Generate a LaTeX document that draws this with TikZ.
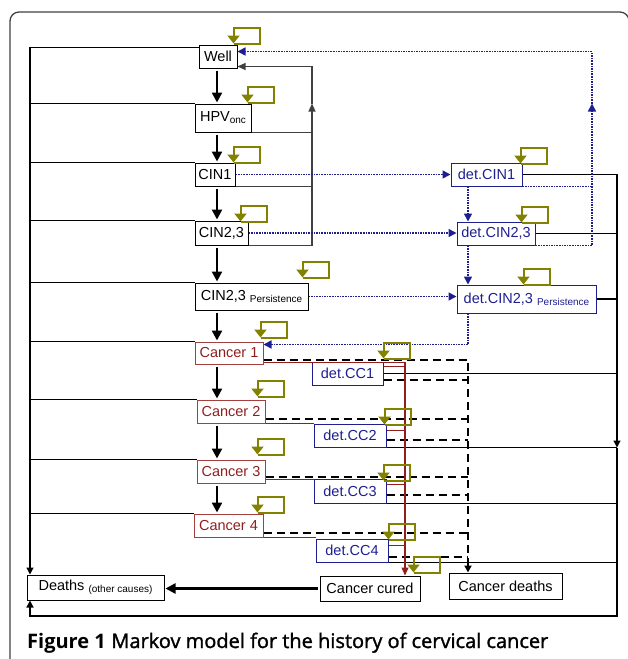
\documentclass[tikz,border=0pt]{standalone}
\usepackage{fontspec}
\setmainfont{Liberation Sans}
\newfontfamily\capfont{Open Sans}
\newfontfamily\capmid[FakeBold=1.5]{Open Sans}
\usepackage{xcolor}
\usepackage{tikz}
\usetikzlibrary{arrows.meta, positioning, calc}

\definecolor{detblue}{RGB}{30,30,145}
\definecolor{cancred}{RGB}{145,30,30}
\definecolor{loopolive}{RGB}{130,130,0}

\tikzset{
    box/.style={draw, line width=1pt, inner sep=1pt, minimum height=23pt, font=\fontsize{14.5}{16}\selectfont},
    cancerbox/.style={box, draw=cancred!85, text=cancred},
    detbox/.style={box, draw=detblue, text=detblue},
    progress/.style={line width=2.4pt, shorten <=2pt, shorten >=1pt, -{Triangle[width=10pt,length=10pt]}},
    death/.style={line width=1.3pt},
    backflow/.style={line width=1.1pt, black!75},
    detect/.style={detblue, line width=1.6pt, densely dotted, -{Triangle[width=8pt,length=8pt]}},
    cure/.style={cancred, line width=1.2pt},
    cdeath/.style={line width=2pt, dash pattern=on 8pt off 5pt},
    loopline/.style={loopolive, line width=2pt, -{Triangle[width=12pt,length=8pt]}},
}
\newcommand{\selfloop}[1]{\draw[loopline] #1 -| ++(26,-16) -| ++(-26,16);}
\newcommand{\lowsub}[1]{\raisebox{-2pt}{\fontsize{10}{10}\selectfont #1}}

\begin{document}
\begin{tikzpicture}[x=1pt, y=-1pt]
    \useasboundingbox (0,0) rectangle (627,659);
    % 外框
    \draw[black!75, line width=1.3pt, rounded corners=9pt] (10,12) rectangle (629,700);

    % 左列状态
    \node[box, minimum width=38pt] (well) at (218,56.5) {Well};
    \node[box, minimum width=56pt, minimum height=28pt] (hpv) at (223,118) {HPV\lowsub{onc}};
    \node[box, minimum width=40pt] (cin1) at (215,174.5) {CIN1};
    \node[box, minimum width=53pt, minimum height=24pt] (cin23) at (221.5,233) {CIN2,3};
    \node[box, minimum width=113pt, minimum height=27pt] (cin23p) at (251.5,296.5) {CIN2,3 \lowsub{Persistence}};
    \node[cancerbox, minimum width=68pt, minimum height=22pt] (can1) at (229,353) {Cancer 1};
    \node[cancerbox, minimum width=68pt] (can2) at (231,411.5) {Cancer 2};
    \node[cancerbox, minimum width=68pt] (can3) at (231,471.5) {Cancer 3};
    \node[cancerbox, minimum width=69pt] (can4) at (228.5,525.5) {Cancer 4};

    % 检出状态
    \node[detbox, minimum width=71pt] (dcin1) at (486.5,174.5) {det.CIN1};
    \node[detbox, minimum width=78pt] (dcin23) at (496,233.5) {det.CIN2,3};
    \node[detbox, minimum width=139pt, minimum height=28pt] (dcin23p) at (526.5,299) {det.CIN2,3 \lowsub{Persistence}};
    \node[detbox, minimum width=71pt] (dcc1) at (347.5,373.5) {det.CC1};
    \node[detbox, minimum width=72pt] (dcc2) at (350,435.5) {det.CC2};
    \node[detbox, minimum width=72pt, minimum height=24pt] (dcc3) at (350,491) {det.CC3};
    \node[detbox, minimum width=72pt] (dcc4) at (352,550.5) {det.CC4};

    % 吸收状态
    \node[box, minimum width=137pt, minimum height=25pt] (deaths) at (95.5,587.5) {Deaths \lowsub{(other causes)}};
    \node[box, minimum width=100pt, minimum height=25pt] (cured) at (370,588.5) {Cancer cured};
    \node[box, minimum width=113pt, minimum height=26pt] (cdeaths) at (505.5,586) {Cancer deaths};

    % 汇流线位置
    \coordinate (mainx) at (217,0);
    \coordinate (leftx) at (30,0);
    \coordinate (backx) at (312,0);
    \coordinate (colx) at (468,0);
    \coordinate (curex) at (405,0);
    \coordinate (recx) at (592,0);
    \coordinate (rightx) at (617,0);
    \coordinate (bottomy) at (0,616);

    % 疾病进展
    \foreach \a/\b in {well/hpv, hpv/cin1, cin1/cin23, cin23/cin23p, cin23p/can1, can1/can2, can2/can3, can3/can4}
        \draw[progress] (\a.south -| mainx) -- (\b.north -| mainx);
    \draw[progress] (cured.west) -- (cured.west -| deaths.east);

    % 其他原因死亡
    \draw[death, -{Triangle[width=7pt,length=7pt]}] ([yshift=-3pt]well.north west) -| (deaths.north -| leftx);
    \foreach \n in {hpv, cin1, cin23, cin23p, can1, can2, can3, can4}
        \draw[death] (\n.north west) -- (\n.north west -| leftx);
    \draw[death, -{Triangle[width=7pt,length=7pt]}] (dcin1.east) -| (dcc2.south east -| rightx);
    \draw[death, -{Triangle[width=7pt,length=7pt]}] (dcc2.south east -| rightx) |- (bottomy -| leftx) -- (deaths.south -| leftx);
    \foreach \n in {dcin23.east, dcin23p.east, dcc1.east, dcc2.south east, dcc3.south east, dcc4.south east}
        \draw[death] (\n) -- (\n -| rightx);

    % 回到 Well
    \draw[backflow, -{Triangle[width=7pt,length=8pt]}] (cin23.south east) -| (backx |- hpv.north);
    \draw[backflow, -{Triangle[width=7pt,length=8pt]}] (backx |- hpv.north) |- ([yshift=2pt]well.south east);
    \foreach \n in {hpv, cin1}
        \draw[backflow] (\n.south east) -- (\n.south east -| backx);

    % 筛查检出
    \draw[detect] (cin1.east) -- (dcin1.west);
    \draw[detect] (cin23.east) -- (cin23.east -| dcin23.west);
    \draw[detect] (cin23p.east) -- (cin23p.east -| dcin23p.west);
    \draw[detect] (dcin1.south -| colx) -- (dcin23.north -| colx);
    \draw[detect] (dcin23.south -| colx) -- (dcin23p.north -| colx);
    \draw[detect] (dcin23p.south -| colx) |- ([yshift=-3pt]can1.north east);
    \draw[detect, -] (dcin1.south east) -- (dcin1.south east -| recx);
    \draw[detect] (dcin23.south east) -| (recx |- hpv.north);
    \draw[detect] (recx |- hpv.north) |- ([yshift=-7pt]well.north east);

    % 癌症死亡
    \draw[cdeath, -{Triangle[width=7pt,length=7pt]}] ([yshift=5pt]can1.south east) -| (cdeaths.north -| colx);
    \foreach \n/\s in {can2/5, can3/7, can4/5, dcc1/6, dcc2/8, dcc3/9, dcc4/6}
        \draw[cdeath] ([yshift=\s pt]\n.south east) coordinate (p) -- (p -| colx);

    % 治愈
    \draw[cure, -{Triangle[width=7pt,length=8pt]}] ([yshift=2pt]can1.south east) -| (cured.north -| curex);
    \draw[cure] (can2.south east) -- (can2.south east -| dcc2.west);
    \draw[cure] ([yshift=4pt]can3.south east) coordinate (p) -- (p -| dcc3.west);
    \draw[cure] (can4.south east) -- (can4.south east -| dcc4.west);
    \foreach \n/\s in {dcc1/5, dcc2/7, dcc3/6, dcc4/7}
        \draw[cure] ([yshift=-\s pt]\n.north east) coordinate (p) -- (p -| curex);

    % 自循环
    \foreach \n/\dx/\dy in {well/-4/-1, hpv/-4/-1, cin1/-2/0, cin23/-8/1, cin23p/-6/-5, can1/-3/-4, can2/-8/-3, can3/-8/-5, can4/-6/-1, dcc1/0/-3, dcc2/-2/1, dcc3/-3/2, dcc4/0/1, cured/-7/-3, dcin1/-2/1, dcin23/-14/1, dcin23p/-73/0}
        {\selfloop{($(\n.north east)+(\dx,\dy)$)}}

    % 图题
    \node[anchor=base west, inner sep=0pt, font=\fontsize{20}{22}\selectfont] (caption) at (27,648) {{\capfont\bfseries Figure 1} {\capmid Markov model for the history of cervical cancer}};
\end{tikzpicture}
\end{document}
